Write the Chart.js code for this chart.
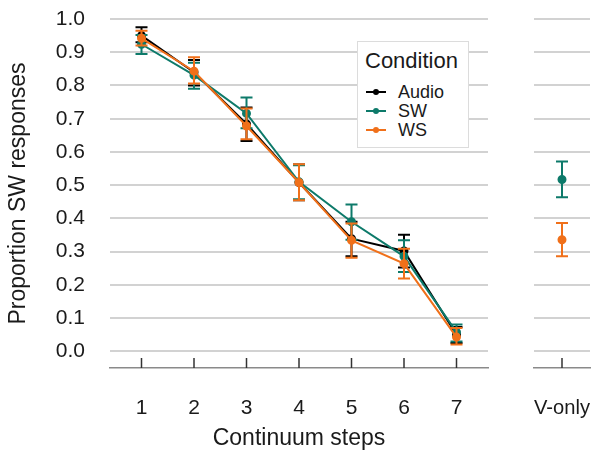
<!DOCTYPE html>
<html>
<head>
<meta charset="utf-8">
<script src="https://cdn.jsdelivr.net/npm/chart.js@4.4.1/dist/chart.umd.min.js"></script>
<style>
    body { margin: 0; background: #fff; font-family: "Liberation Sans", Arial, sans-serif; }
    #wrap { position: relative; width: 596px; height: 450px; }
    #mainBox { position: absolute; left: 0; top: 0; width: 500px; height: 450px; }
    #sideBox { position: absolute; left: 500px; top: 0; width: 96px; height: 450px; }
    #legend {
        position: absolute; left: 357px; top: 41px; width: 110px; height: 105px;
        border: 1px solid #dcdcdc; background: #fff; color: #1a1a1a;
    }
    #legend .title { position: absolute; left: 7px; top: 6px; font-size: 22px; }
    #legend .item { position: absolute; left: 8px; font-size: 18px; line-height: 20px; }
    #legend .mark { display: inline-block; position: relative; width: 20px; height: 20px; vertical-align: top; margin-right: 12px; }
    #legend .mark i { position: absolute; left: 0; top: 9px; width: 20px; height: 2px; }
    #legend .mark b { position: absolute; left: 7px; top: 7px; width: 6px; height: 6px; border-radius: 50%; }
</style>
</head>
<body>
<div id="wrap">
    <div id="mainBox"><canvas id="mainChart"></canvas></div>
    <div id="sideBox"><canvas id="sideChart"></canvas></div>
    <div id="legend"></div>
</div>
<script>
// 连续体步骤
const steps = [1, 2, 3, 4, 5, 6, 7];
const conditions = ['Audio', 'SW', 'WS'];
const colors = ['#000000', '#0d7a6a', '#f0701a'];

// 各条件均值与误差范围
const audioMean = [0.950, 0.840, 0.684, 0.508, 0.339, 0.302, 0.050];
const audioLow = [0.930, 0.800, 0.633, 0.455, 0.286, 0.252, 0.025];
const audioHigh = [0.975, 0.877, 0.734, 0.562, 0.390, 0.351, 0.073];

const swMean = [0.924, 0.831, 0.716, 0.510, 0.390, 0.286, 0.058];
const swLow = [0.895, 0.790, 0.671, 0.458, 0.336, 0.239, 0.030];
const swHigh = [0.952, 0.868, 0.764, 0.560, 0.442, 0.334, 0.081];

const wsMean = [0.942, 0.843, 0.678, 0.508, 0.334, 0.264, 0.043];
const wsLow = [0.920, 0.806, 0.638, 0.455, 0.282, 0.219, 0.021];
const wsHigh = [0.965, 0.885, 0.731, 0.563, 0.385, 0.309, 0.070];

// V-only 面板
const vOnlyLabels = ['V-only'];
const vOnlySW = [0.517], vOnlySWLow = [0.464], vOnlySWHigh = [0.571];
const vOnlyWS = [0.336], vOnlyWSLow = [0.286], vOnlyWSHigh = [0.386];

const yTicks = [0, 0.1, 0.2, 0.3, 0.4, 0.5, 0.6, 0.7, 0.8, 0.9, 1.0];

const textColor = '#1a1a1a';
const gridColor = '#d2d2d2';
const axisColor = '#8a8a8a';

// 误差线插件：用数据集上的 low/high 通过 y 轴换算
const errorBars = {
    id: 'errorBars',
    afterDatasetDraw(chart, args) {
        const ds = chart.data.datasets[args.index];
        if (!ds.low) return;
        const ctx = chart.ctx;
        const yScale = chart.scales.y;
        ctx.save();
        ctx.strokeStyle = ds.borderColor;
        ctx.lineWidth = 2;
        args.meta.data.forEach((pt, i) => {
            const top = yScale.getPixelForValue(ds.high[i]);
            const bot = yScale.getPixelForValue(ds.low[i]);
            ctx.beginPath();
            ctx.moveTo(pt.x, top); ctx.lineTo(pt.x, bot);
            ctx.moveTo(pt.x - 6, top); ctx.lineTo(pt.x + 6, top);
            ctx.moveTo(pt.x - 6, bot); ctx.lineTo(pt.x + 6, bot);
            ctx.stroke();
        });
        ctx.restore();
    }
};

// 向上的 x 轴刻度
const innerTicks = {
    id: 'innerTicks',
    afterDraw(chart) {
        const x = chart.scales.x;
        const ctx = chart.ctx;
        const bottom = chart.chartArea.bottom;
        ctx.save();
        ctx.strokeStyle = '#333';
        ctx.lineWidth = 1.5;
        x.ticks.forEach((t, i) => {
            const px = x.getPixelForTick(i);
            ctx.beginPath();
            ctx.moveTo(px, bottom - 10);
            ctx.lineTo(px, bottom);
            ctx.stroke();
        });
        ctx.restore();
    }
};

function makeSet(label, color, mean, low, high, order) {
    return {
        label: label,
        data: mean,
        low: low,
        high: high,
        borderColor: color,
        backgroundColor: color,
        borderWidth: 2,
        pointRadius: 3.5,
        pointHoverRadius: 3.5,
        tension: 0,
        order: order
    };
}

// 标签与轴之间的间距用透明刻度线撑开，避免 padding 挤压绘图区
function yScaleOpts(showLabels, width) {
    return {
        min: -0.05,
        max: 1.0,
        afterBuildTicks(scale) {
            scale.ticks = yTicks.map(v => ({value: v}));
        },
        afterFit(scale) { scale.width = width; },
        grid: { color: gridColor, lineWidth: 2, drawTicks: true, tickLength: 25, tickColor: 'rgba(0,0,0,0)' },
        border: { display: false },
        ticks: {
            display: showLabels,
            padding: 0,
            color: textColor,
            font: { size: 21, family: 'Liberation Sans' },
            callback: v => v.toFixed(1)
        },
        title: {
            display: showLabels,
            text: 'Proportion SW responses',
            color: textColor,
            font: { size: 23, family: 'Liberation Sans' },
            padding: { top: 5, bottom: 0 }
        }
    };
}

function xScaleOpts(extra) {
    return Object.assign({
        afterFit(scale) { scale.height = 82; },
        grid: { drawOnChartArea: false, drawTicks: true, tickLength: 28, tickColor: 'rgba(0,0,0,0)' },
        border: { color: axisColor, width: 1.5 },
        ticks: {
            padding: 0,
            maxRotation: 0,
            color: textColor,
            font: { size: 21, family: 'Liberation Sans' }
        }
    }, extra);
}

new Chart(document.getElementById('mainChart'), {
    type: 'line',
    data: {
        labels: steps,
        datasets: [
            makeSet(conditions[0], colors[0], audioMean.map((v, i) => ({x: steps[i], y: v})), audioLow, audioHigh, 3),
            makeSet(conditions[1], colors[1], swMean.map((v, i) => ({x: steps[i], y: v})), swLow, swHigh, 2),
            makeSet(conditions[2], colors[2], wsMean.map((v, i) => ({x: steps[i], y: v})), wsLow, wsHigh, 1)
        ]
    },
    options: {
        responsive: true,
        maintainAspectRatio: false,
        animation: false,
        layout: { autoPadding: false, padding: { top: 19, right: 12, left: 0, bottom: 0 } },
        plugins: { legend: { display: false }, tooltip: { enabled: false } },
        scales: {
            x: xScaleOpts({
                type: 'linear',
                min: 0.4,
                max: 7.6,
                afterBuildTicks(scale) {
                    scale.ticks = steps.map(v => ({value: v}));
                },
                title: {
                    display: true,
                    text: 'Continuum steps',
                    color: textColor,
                    font: { size: 23, family: 'Liberation Sans' },
                    padding: { top: 0, bottom: -2 }
                }
            }),
            y: yScaleOpts(true, 110)
        }
    },
    plugins: [errorBars, innerTicks]
});

// V-only 的类别名放在轴标题里，居中于唯一的刻度
new Chart(document.getElementById('sideChart'), {
    type: 'line',
    data: {
        labels: vOnlyLabels,
        datasets: [
            makeSet(conditions[1], colors[1], vOnlySW, vOnlySWLow, vOnlySWHigh, 2),
            makeSet(conditions[2], colors[2], vOnlyWS, vOnlyWSLow, vOnlyWSHigh, 1)
        ]
    },
    options: {
        responsive: true,
        maintainAspectRatio: false,
        animation: false,
        layout: { autoPadding: false, padding: { top: 19, right: 6, left: 0, bottom: 0 } },
        plugins: { legend: { display: false }, tooltip: { enabled: false } },
        scales: {
            x: xScaleOpts({
                type: 'category',
                offset: true,
                ticks: { display: false },
                title: {
                    display: true,
                    text: vOnlyLabels[0],
                    color: textColor,
                    font: { size: 21, family: 'Liberation Sans' },
                    padding: { top: 0, bottom: 29 }
                }
            }),
            y: yScaleOpts(false, 34)
        }
    },
    plugins: [errorBars, innerTicks]
});

// 图例
const legend = document.getElementById('legend');
let html = '<div class="title">Condition</div>';
conditions.forEach((c, i) => {
    html += '<div class="item" style="top:' + (40 + i * 19) + 'px"><span class="mark"><i style="background:' + colors[i] +
        '"></i><b style="background:' + colors[i] + '"></b></span>' + c + '</div>';
});
legend.innerHTML = html;
</script>
</body>
</html>
